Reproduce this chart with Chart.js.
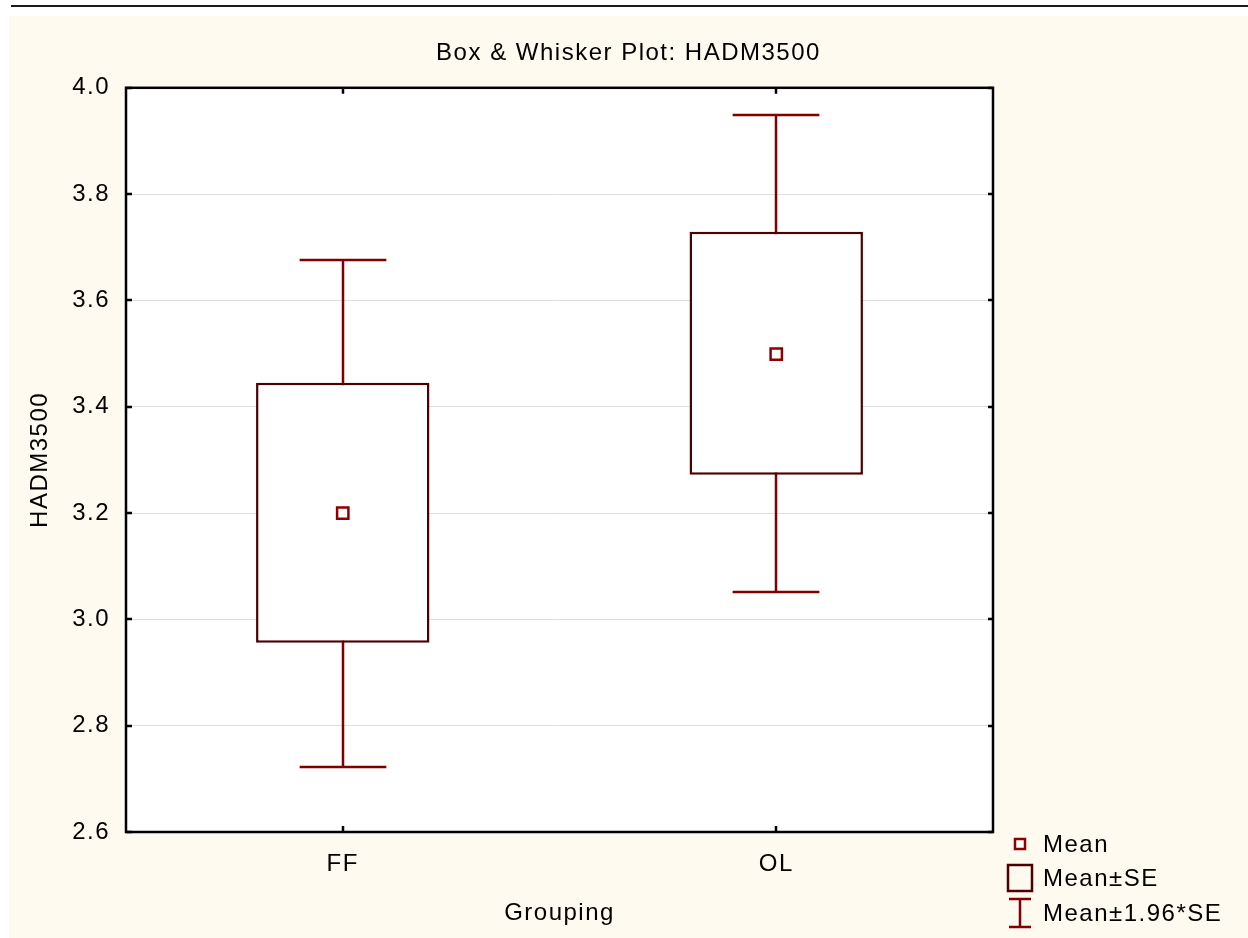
<!DOCTYPE html>
<html lang="en">
<head>
  <meta charset="UTF-8">
  <title>Box & Whisker Plot: HADM3500</title>
  <script src="https://cdn.jsdelivr.net/npm/chart.js"></script>
  <style>
    html, body {
      margin: 0;
      padding: 0;
      background: #ffffff;
    }
    .topline {
      position: absolute;
      left: 11px;
      top: 5px;
      width: 1237px;
      height: 0;
      border-top: 2px solid #1a1a1a;
    }
    .panel {
      position: absolute;
      left: 9px;
      top: 16px;
      width: 1239px;
      height: 922px;
      background: #fffaf0;
    }
  </style>
</head>
<body>
  <div class="topline"></div>
  <div class="panel">
    <canvas id="boxChart"></canvas>
  </div>

  <script>
    // values
    const groups = ['FF', 'OL'];
    const means = [3.200, 3.499];
    const seLow = [2.956, 3.272];
    const seHigh = [3.445, 3.729];
    const ciLow = [2.722, 3.052];
    const ciHigh = [3.676, 3.948];
    const yTicks = ['2.6', '2.8', '3.0', '3.2', '3.4', '3.6', '3.8', '4.0'];
    const legendLabels = ['Mean', 'Mean\u00b1SE', 'Mean\u00b11.96*SE'];

    const whiskerColor = '#800000';
    const boxColor = '#4d0000';
    const meanColor = '#8b0000';
    const fontFamily = '"Liberation Sans", Arial, sans-serif';

    // Statistica text looks a little stretched, widen it a bit
    const spacing = {
      id: 'spacing',
      beforeUpdate(chart) { chart.ctx.letterSpacing = '1.5px'; },
      beforeDraw(chart) { chart.ctx.letterSpacing = '1.5px'; }
    };

    const plotBackground = {
      id: 'plotBackground',
      beforeDraw(chart) {
        const { ctx, chartArea: a } = chart;
        ctx.save();
        ctx.fillStyle = '#ffffff';
        ctx.fillRect(a.left, a.top, a.right - a.left, a.bottom - a.top);
        ctx.restore();
      }
    };

    const whiskers = {
      id: 'whiskers',
      beforeDatasetsDraw(chart) {
        const { ctx, scales: { x, y } } = chart;
        ctx.save();
        ctx.strokeStyle = whiskerColor;
        ctx.lineWidth = 2.5;
        groups.forEach((g, i) => {
          const cx = Math.round(x.getPixelForValue(i));
          const half = x.getPixelForValue(i + 0.1) - x.getPixelForValue(i);
          const yLo = Math.round(y.getPixelForValue(ciLow[i]));
          const yHi = Math.round(y.getPixelForValue(ciHigh[i]));
          ctx.beginPath();
          ctx.moveTo(cx, yLo);
          ctx.lineTo(cx, yHi);
          ctx.moveTo(cx - half, yLo);
          ctx.lineTo(cx + half, yLo);
          ctx.moveTo(cx - half, yHi);
          ctx.lineTo(cx + half, yHi);
          ctx.stroke();
        });
        ctx.restore();
      }
    };

    const frame = {
      id: 'frame',
      afterDraw(chart) {
        const { ctx, chartArea: a, scales: { x, y } } = chart;
        ctx.save();
        ctx.strokeStyle = '#000000';
        ctx.lineWidth = 2.5;
        ctx.strokeRect(a.left, a.top, a.right - a.left, a.bottom - a.top);
        ctx.beginPath();
        y.ticks.forEach((t, i) => {
          const py = Math.round(y.getPixelForTick(i));
          ctx.moveTo(a.left, py);
          ctx.lineTo(a.left + 6, py);
          ctx.moveTo(a.right, py);
          ctx.lineTo(a.right - 5, py);
        });
        groups.forEach((g, i) => {
          const px = Math.round(x.getPixelForValue(i));
          ctx.moveTo(px, a.bottom);
          ctx.lineTo(px, a.bottom - 6);
          ctx.moveTo(px, a.top);
          ctx.lineTo(px, a.top + 6);
        });
        ctx.stroke();
        ctx.restore();
      }
    };

    const sideLegend = {
      id: 'sideLegend',
      afterDraw(chart) {
        const { ctx, chartArea: a } = chart;
        const ix = a.right + 27;
        const tx = a.right + 50;
        const rows = [a.bottom + 12, a.bottom + 46, a.bottom + 81];
        ctx.save();

        // Mean marker
        ctx.fillStyle = '#ffffff';
        ctx.strokeStyle = meanColor;
        ctx.lineWidth = 2.5;
        ctx.fillRect(ix - 5, rows[0] - 5, 10, 10);
        ctx.strokeRect(ix - 5, rows[0] - 5, 10, 10);

        // box
        ctx.strokeStyle = boxColor;
        ctx.strokeRect(ix - 12, rows[1] - 13, 24, 26);

        // whisker
        ctx.strokeStyle = whiskerColor;
        ctx.beginPath();
        ctx.moveTo(ix - 11, rows[2] - 14);
        ctx.lineTo(ix + 11, rows[2] - 14);
        ctx.moveTo(ix, rows[2] - 14);
        ctx.lineTo(ix, rows[2] + 14);
        ctx.moveTo(ix - 11, rows[2] + 14);
        ctx.lineTo(ix + 11, rows[2] + 14);
        ctx.stroke();

        ctx.fillStyle = '#000000';
        ctx.font = '24px ' + fontFamily;
        ctx.textAlign = 'left';
        ctx.textBaseline = 'middle';
        legendLabels.forEach((txt, i) => ctx.fillText(txt, tx, rows[i] + 1));
        ctx.restore();
      }
    };

    const ctx = document.getElementById('boxChart').getContext('2d');

    new Chart(ctx, {
      type: 'bar',
      data: {
        labels: groups,
        datasets: [
          {
            type: 'bar',
            label: legendLabels[1],
            data: groups.map((g, i) => [seLow[i], seHigh[i]]),
            backgroundColor: '#ffffff',
            borderColor: boxColor,
            borderWidth: 2.5,
            borderSkipped: false,
            barPercentage: 0.4,
            categoryPercentage: 1.0,
            order: 2
          },
          {
            type: 'line',
            label: legendLabels[0],
            data: means,
            showLine: false,
            pointStyle: 'rect',
            pointRadius: 8,
            pointHoverRadius: 8,
            pointBorderWidth: 2.5,
            pointBorderColor: meanColor,
            pointBackgroundColor: '#ffffff',
            order: 1
          }
        ]
      },
      options: {
        responsive: true,
        maintainAspectRatio: false,
        animation: false,
        events: [],
        layout: {
          padding: 0
        },
        plugins: {
          legend: { display: false },
          tooltip: { enabled: false },
          title: {
            display: true,
            text: 'Box & Whisker Plot: HADM3500',
            color: '#000000',
            font: { family: fontFamily, size: 24, weight: 'normal', lineHeight: 1.2 },
            padding: { top: 23, bottom: 20 }
          }
        },
        scales: {
          x: {
            type: 'category',
            offset: true,
            grid: { display: false, drawTicks: false },
            border: { display: false },
            ticks: {
              color: '#000000',
              padding: 18,
              font: { family: fontFamily, size: 24 }
            },
            title: {
              display: true,
              text: 'Grouping',
              color: '#000000',
              font: { family: fontFamily, size: 24, lineHeight: 1.2 },
              padding: { top: 0, bottom: 10 }
            },
            afterFit(scale) { scale.height = 106; }
          },
          y: {
            min: 2.6,
            max: 4.0,
            grid: {
              color: '#dedede',
              lineWidth: 1,
              drawTicks: false
            },
            border: { display: false },
            ticks: {
              stepSize: 0.2,
              color: '#000000',
              padding: 16,
              font: { family: fontFamily, size: 24 },
              callback: (v, i) => yTicks[i]
            },
            title: {
              display: true,
              text: 'HADM3500',
              color: '#000000',
              font: { family: fontFamily, size: 24, lineHeight: 1.2 },
              padding: { top: 17, bottom: 0 }
            },
            afterFit(scale) { scale.width = 117; }
          },
          // empty right-hand strip where the legend sits
          side: {
            type: 'linear',
            position: 'right',
            grid: { display: false, drawTicks: false },
            border: { display: false },
            ticks: { display: false },
            afterFit(scale) { scale.width = 255; }
          }
        }
      },
      plugins: [spacing, plotBackground, whiskers, frame, sideLegend]
    });
  </script>
</body>
</html>
